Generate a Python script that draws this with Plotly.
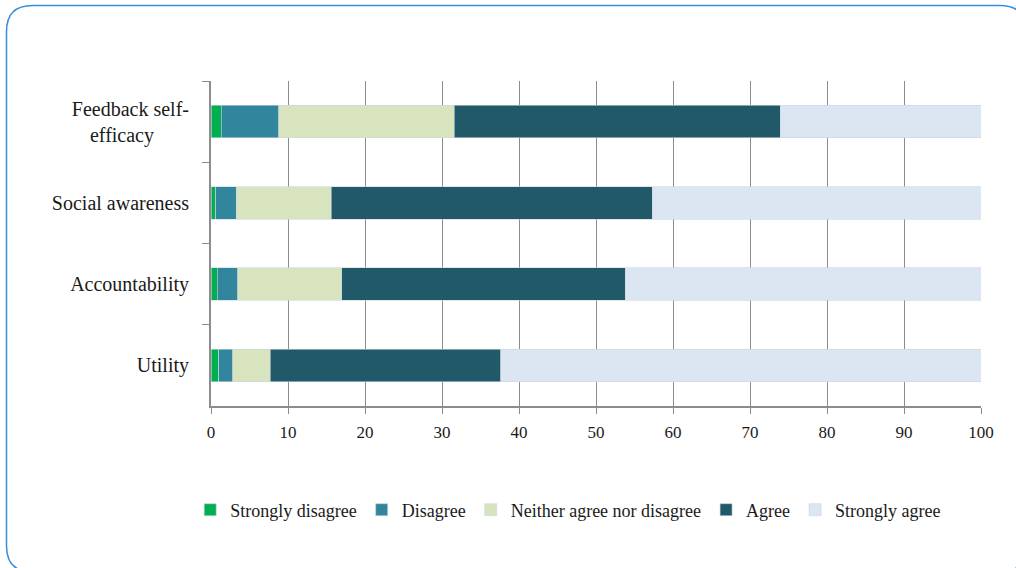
import plotly.graph_objects as go

categories = ["Feedback self-<br>efficacy" + "\u00a0" * 7, "Social awareness", "Accountability", "Utility"]
series_names = ["Strongly disagree", "Disagree", "Neither agree nor disagree", "Agree", "Strongly agree"]
strongly_disagree = [1.3, 0.6, 0.8, 1.0]
disagree = [7.5, 2.7, 2.7, 1.8]
neither = [22.8, 12.3, 13.5, 4.9]
agree = [42.3, 41.7, 36.8, 29.9]
strongly_agree = [26.1, 42.7, 46.2, 62.4]
colors = ["#00b050", "#31859c", "#d7e4bd", "#215968", "#dce6f2"]
x_ticks = [0, 10, 20, 30, 40, 50, 60, 70, 80, 90, 100]

FONT = "Liberation Serif"
fig = go.Figure()
for name, vals, col in zip(series_names,
                           [strongly_disagree, disagree, neither, agree, strongly_agree],
                           colors):
    fig.add_trace(go.Bar(y=categories, x=vals, name=name, orientation="h",
                         marker=dict(color=col, line=dict(color="#c9d5e3", width=0.6))))

W, H = 1016, 568
ml, mr, mt, mb = 211, 35, 81, 162
pw, ph = W - ml - mr, H - mt - mb

def px(xp):
    return (xp - ml) / pw

def py(yp):
    return (H - mb - yp) / ph

# rounded border around the figure (pixel positions converted to paper coords)
x0, x1, y0, y1, r = 6.5, 1026, 5.5, 572, 26
path = (f"M {px(x0+r)},{py(y0)} L {px(x1-r)},{py(y0)} Q {px(x1)},{py(y0)} {px(x1)},{py(y0+r)} "
        f"L {px(x1)},{py(y1-r)} Q {px(x1)},{py(y1)} {px(x1-r)},{py(y1)} "
        f"L {px(x0+r)},{py(y1)} Q {px(x0)},{py(y1)} {px(x0)},{py(y1-r)} "
        f"L {px(x0)},{py(y0+r)} Q {px(x0)},{py(y0)} {px(x0+r)},{py(y0)} Z")
fig.add_shape(type="path", path=path, xref="paper", yref="paper",
              line=dict(color="#3a8fd8", width=1.5), layer="below")

fig.update_layout(
    width=W, height=H,
    margin=dict(l=ml, r=mr, t=mt, b=mb),
    barmode="stack", bargap=0.6,
    plot_bgcolor="white", paper_bgcolor="white",
    font=dict(family=FONT, size=17, color="#1a1a1a"),
    legend=dict(orientation="h", x=-0.027, xanchor="left", y=-0.32, yanchor="middle",
                font=dict(size=18), itemwidth=30, traceorder="normal"),
    showlegend=True,
)
fig.update_xaxes(range=[0, 100], tickvals=x_ticks, showgrid=True, gridcolor="#8c8c8c", gridwidth=1,
                 showline=True, linecolor="#8c8c8c", linewidth=1.5, ticks="outside", ticklen=6,
                 tickcolor="#8c8c8c", tickfont=dict(size=17), zeroline=False, ticklabelstandoff=4)
fig.update_yaxes(autorange="reversed", showline=True, linecolor="#8c8c8c", linewidth=2,
                 ticks="outside", ticklen=7, tickcolor="#8c8c8c", tickson="boundaries",
                 tickfont=dict(size=20), showgrid=False, ticklabelstandoff=16)

fig.write_html("out.html")
